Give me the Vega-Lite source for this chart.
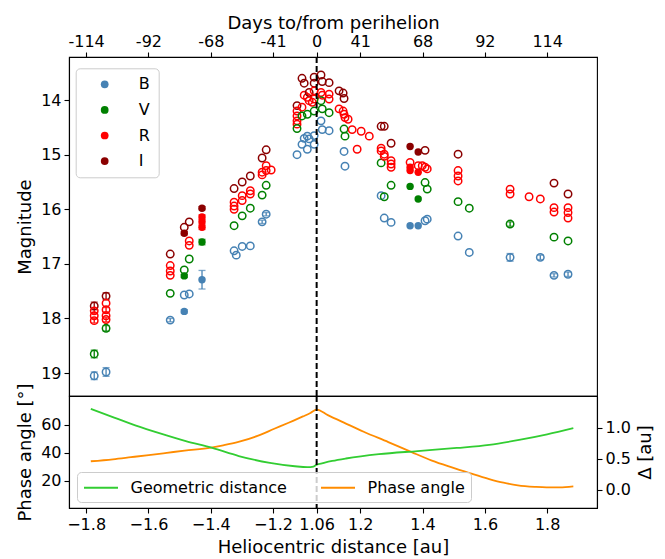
{
"$schema":"https://vega.github.io/schema/vega-lite/v6.json",
"background":"white",
"padding":{"left":16,"top":13,"right":5,"bottom":3},
"spacing":0,
"bounds":"flush",
"resolve":{"scale":{"x":"independent","color":"independent","fill":"independent","stroke":"independent"},"legend":{"color":"independent","fill":"independent","stroke":"independent"}},
"config":{
 "font":"DejaVu Sans",
 "view":{"stroke":"black","strokeWidth":1.1},
 "axis":{"domainColor":"black","tickColor":"black","labelColor":"black","titleColor":"black","grid":false,"labelFontSize":16,"titleFontSize":18,"titleFontWeight":"normal","tickSize":5,"labelPadding":3,"domainWidth":1.1,"tickWidth":1.1,"titlePadding":6},
 "legend":{"labelFont":"DejaVu Sans","labelColor":"black"}
},
"vconcat":[
{
 "width":528,"height":339,
 "data":{"values":[
{"u":-0.714,"m":17.77,"b":"I","e":0.07},
{"u":-0.714,"m":17.86,"b":"R","e":0.05},
{"u":-0.714,"m":17.95,"b":"R"},
{"u":-0.714,"m":18.04,"b":"R","e":0.04},
{"u":-0.714,"m":18.65,"b":"V","e":0.07},
{"u":-0.714,"m":19.05,"b":"B","e":0.07},
{"u":-0.676,"m":17.59,"b":"I","e":0.06},
{"u":-0.676,"m":17.72,"b":"R"},
{"u":-0.676,"m":17.84,"b":"R","e":0.04},
{"u":-0.676,"m":17.95,"b":"R"},
{"u":-0.676,"m":18.02,"b":"R","e":0.04},
{"u":-0.676,"m":18.18,"b":"V","e":0.05},
{"u":-0.676,"m":18.98,"b":"B","e":0.08},
{"u":-0.470,"m":16.82,"b":"I"},
{"u":-0.470,"m":17.03,"b":"R"},
{"u":-0.470,"m":17.13,"b":"R"},
{"u":-0.470,"m":17.21,"b":"R"},
{"u":-0.470,"m":17.54,"b":"V"},
{"u":-0.470,"m":18.03,"b":"B","e":0.03},
{"u":-0.425,"m":16.44,"b":"I","f":1,"e":0.03},
{"u":-0.425,"m":16.33,"b":"I"},
{"u":-0.425,"m":17.11,"b":"V"},
{"u":-0.425,"m":17.22,"b":"V","f":1,"e":0.03},
{"u":-0.425,"m":17.57,"b":"B"},
{"u":-0.425,"m":17.87,"b":"B","f":1,"e":0.03},
{"u":-0.409,"m":16.23,"b":"I"},
{"u":-0.409,"m":16.58,"b":"R"},
{"u":-0.409,"m":16.66,"b":"R"},
{"u":-0.409,"m":16.91,"b":"V"},
{"u":-0.409,"m":17.55,"b":"B"},
{"u":-0.368,"m":15.98,"b":"I","f":1,"e":0.03},
{"u":-0.368,"m":16.14,"b":"R","f":1,"e":0.04},
{"u":-0.368,"m":16.23,"b":"R","f":1,"e":0.04},
{"u":-0.368,"m":16.33,"b":"R","f":1,"e":0.04},
{"u":-0.368,"m":16.60,"b":"V","f":1,"e":0.05},
{"u":-0.368,"m":17.29,"b":"B","f":1,"e":0.17},
{"u":-0.265,"m":15.62,"b":"I"},
{"u":-0.265,"m":15.87,"b":"R"},
{"u":-0.265,"m":15.94,"b":"R"},
{"u":-0.265,"m":16.00,"b":"R"},
{"u":-0.265,"m":16.30,"b":"V"},
{"u":-0.265,"m":16.76,"b":"B"},
{"u":-0.258,"m":16.84,"b":"B"},
{"u":-0.239,"m":15.50,"b":"I"},
{"u":-0.239,"m":15.75,"b":"R"},
{"u":-0.239,"m":15.84,"b":"R"},
{"u":-0.239,"m":16.12,"b":"V"},
{"u":-0.239,"m":16.68,"b":"B"},
{"u":-0.213,"m":15.39,"b":"I"},
{"u":-0.213,"m":15.66,"b":"R"},
{"u":-0.213,"m":15.72,"b":"R"},
{"u":-0.213,"m":15.98,"b":"V"},
{"u":-0.213,"m":16.67,"b":"B"},
{"u":-0.175,"m":15.06,"b":"I"},
{"u":-0.175,"m":15.32,"b":"R"},
{"u":-0.175,"m":15.37,"b":"R"},
{"u":-0.175,"m":15.74,"b":"V"},
{"u":-0.175,"m":16.23,"b":"B","e":0.03},
{"u":-0.162,"m":14.91,"b":"I"},
{"u":-0.162,"m":15.20,"b":"R"},
{"u":-0.162,"m":15.29,"b":"R"},
{"u":-0.162,"m":15.56,"b":"V"},
{"u":-0.162,"m":16.09,"b":"B","e":0.03},
{"u":-0.146,"m":15.28,"b":"R"},
{"u":-0.063,"m":14.10,"b":"I"},
{"u":-0.063,"m":14.20,"b":"R"},
{"u":-0.063,"m":14.29,"b":"R"},
{"u":-0.063,"m":14.38,"b":"R"},
{"u":-0.063,"m":14.44,"b":"R"},
{"u":-0.063,"m":14.52,"b":"V"},
{"u":-0.063,"m":15.00,"b":"B"},
{"u":-0.047,"m":13.60,"b":"I"},
{"u":-0.047,"m":14.13,"b":"R"},
{"u":-0.047,"m":14.29,"b":"V"},
{"u":-0.047,"m":14.81,"b":"B"},
{"u":-0.040,"m":13.69,"b":"I"},
{"u":-0.040,"m":13.91,"b":"R"},
{"u":-0.040,"m":14.70,"b":"B"},
{"u":-0.030,"m":13.95,"b":"R"},
{"u":-0.030,"m":14.26,"b":"V"},
{"u":-0.030,"m":14.66,"b":"B"},
{"u":-0.030,"m":14.90,"b":"B"},
{"u":-0.024,"m":13.86,"b":"I"},
{"u":-0.024,"m":14.01,"b":"R"},
{"u":-0.024,"m":14.71,"b":"B"},
{"u":-0.014,"m":14.04,"b":"R"},
{"u":-0.008,"m":13.58,"b":"I"},
{"u":-0.008,"m":13.69,"b":"I"},
{"u":-0.008,"m":13.83,"b":"R"},
{"u":-0.008,"m":13.98,"b":"R"},
{"u":-0.008,"m":14.20,"b":"V"},
{"u":-0.008,"m":14.65,"b":"B"},
{"u":-0.008,"m":14.81,"b":"B"},
{"u":0.014,"m":13.54,"b":"I"},
{"u":0.014,"m":13.86,"b":"R"},
{"u":0.014,"m":14.01,"b":"V"},
{"u":0.014,"m":14.38,"b":"B"},
{"u":0.018,"m":13.66,"b":"I"},
{"u":0.018,"m":13.91,"b":"R"},
{"u":0.018,"m":14.16,"b":"V"},
{"u":0.018,"m":14.54,"b":"B"},
{"u":0.040,"m":13.68,"b":"I"},
{"u":0.040,"m":13.89,"b":"R"},
{"u":0.040,"m":13.98,"b":"R"},
{"u":0.040,"m":14.23,"b":"V"},
{"u":0.040,"m":14.56,"b":"B"},
{"u":0.072,"m":13.83,"b":"I"},
{"u":0.072,"m":14.16,"b":"R"},
{"u":0.085,"m":13.87,"b":"I"},
{"u":0.085,"m":14.20,"b":"R"},
{"u":0.088,"m":13.97,"b":"I"},
{"u":0.088,"m":14.26,"b":"R"},
{"u":0.088,"m":14.53,"b":"V"},
{"u":0.088,"m":14.94,"b":"B"},
{"u":0.091,"m":14.32,"b":"R"},
{"u":0.091,"m":14.66,"b":"V"},
{"u":0.091,"m":15.21,"b":"B"},
{"u":0.101,"m":14.35,"b":"R"},
{"u":0.114,"m":14.54,"b":"R"},
{"u":0.130,"m":14.90,"b":"R"},
{"u":0.143,"m":14.57,"b":"R"},
{"u":0.169,"m":14.66,"b":"R"},
{"u":0.207,"m":14.48,"b":"I"},
{"u":0.207,"m":14.88,"b":"R"},
{"u":0.207,"m":14.93,"b":"R"},
{"u":0.207,"m":15.15,"b":"V"},
{"u":0.207,"m":15.75,"b":"B"},
{"u":0.217,"m":14.48,"b":"I"},
{"u":0.217,"m":14.99,"b":"R"},
{"u":0.217,"m":15.03,"b":"R"},
{"u":0.217,"m":15.77,"b":"V"},
{"u":0.217,"m":16.16,"b":"B"},
{"u":0.239,"m":14.79,"b":"I"},
{"u":0.239,"m":15.11,"b":"R"},
{"u":0.239,"m":15.17,"b":"R"},
{"u":0.239,"m":15.23,"b":"R"},
{"u":0.239,"m":15.56,"b":"V"},
{"u":0.239,"m":16.24,"b":"B"},
{"u":0.300,"m":14.85,"b":"I","f":1},
{"u":0.300,"m":15.14,"b":"R"},
{"u":0.300,"m":15.23,"b":"R","f":1},
{"u":0.300,"m":15.29,"b":"R","f":1},
{"u":0.300,"m":15.58,"b":"V","f":1},
{"u":0.300,"m":16.30,"b":"B","f":1},
{"u":0.326,"m":14.95,"b":"I","f":1},
{"u":0.326,"m":15.20,"b":"R"},
{"u":0.326,"m":15.32,"b":"R","f":1},
{"u":0.326,"m":15.81,"b":"V","f":1},
{"u":0.326,"m":16.30,"b":"B","f":1},
{"u":0.339,"m":15.20,"b":"R"},
{"u":0.348,"m":14.92,"b":"I"},
{"u":0.348,"m":15.23,"b":"R"},
{"u":0.348,"m":15.51,"b":"V"},
{"u":0.348,"m":16.21,"b":"B"},
{"u":0.355,"m":15.26,"b":"R"},
{"u":0.355,"m":15.63,"b":"V"},
{"u":0.355,"m":16.18,"b":"B"},
{"u":0.454,"m":14.99,"b":"I"},
{"u":0.454,"m":15.29,"b":"R"},
{"u":0.454,"m":15.39,"b":"R"},
{"u":0.454,"m":15.48,"b":"R"},
{"u":0.454,"m":15.86,"b":"V"},
{"u":0.454,"m":16.49,"b":"B"},
{"u":0.490,"m":15.98,"b":"V"},
{"u":0.490,"m":16.79,"b":"B"},
{"u":0.621,"m":15.63,"b":"R"},
{"u":0.621,"m":15.72,"b":"R"},
{"u":0.621,"m":16.27,"b":"V","e":0.04},
{"u":0.621,"m":16.88,"b":"B","e":0.07},
{"u":0.682,"m":15.77,"b":"R"},
{"u":0.718,"m":15.81,"b":"R"},
{"u":0.718,"m":16.88,"b":"B","e":0.04},
{"u":0.762,"m":15.52,"b":"I"},
{"u":0.762,"m":15.97,"b":"R"},
{"u":0.762,"m":16.05,"b":"R"},
{"u":0.762,"m":16.51,"b":"V"},
{"u":0.762,"m":17.21,"b":"B","e":0.03},
{"u":0.807,"m":15.72,"b":"I"},
{"u":0.807,"m":15.97,"b":"R"},
{"u":0.807,"m":16.06,"b":"R"},
{"u":0.807,"m":16.16,"b":"R"},
{"u":0.807,"m":16.58,"b":"V"},
{"u":0.807,"m":17.19,"b":"B","e":0.04}
 ]},
 "encoding":{"x":{"field":"u","type":"quantitative","scale":{"domain":[-0.795,0.9],"nice":false,"zero":false},
   "axis":{"orient":"top","title":"Days to/from perihelion","titlePadding":1,"values":[-0.74,-0.54,-0.34,-0.14,0,0.14,0.34,0.54,0.74],"labelFlush":false,"labelOverlap":false,
   "labelExpr":"datum.value < -0.6 ? '-114' : datum.value < -0.44 ? '-92' : datum.value < -0.24 ? '-68' : datum.value < -0.07 ? '-41' : datum.value < 0.07 ? '0' : datum.value < 0.24 ? '41' : datum.value < 0.44 ? '68' : datum.value < 0.64 ? '92' : '114'"}}},
 "layer":[
  {"transform":[{"filter":"datum.e > 0"}],
   "mark":{"type":"errorbar","ticks":{"size":7,"thickness":1.3},"thickness":1.3},
   "encoding":{
    "y":{"field":"m","type":"quantitative","scale":{"domain":[13.21,19.42],"nice":false,"zero":false,"reverse":true},"axis":{"title":"Magnitude","values":[14,15,16,17,18,19]}},
    "yError":{"field":"e"},
    "color":{"field":"b","type":"nominal","scale":{"domain":["V","B","R","I"],"range":["#008000","#4682b4","#ff0000","#8b0000"]},"legend":null}}},
  {"transform":[{"filter":"datum.f != 1"}],
   "mark":{"type":"point","filled":false,"size":55,"strokeWidth":1.5,"opacity":1},
   "encoding":{
    "y":{"field":"m","type":"quantitative","scale":{"domain":[13.21,19.42],"nice":false,"zero":false,"reverse":true},"axis":{"title":"Magnitude","values":[14,15,16,17,18,19]}},
    "stroke":{"field":"b","type":"nominal","scale":{"domain":["I","R","V","B"],"range":["#8b0000","#ff0000","#008000","#4682b4"]},"legend":null}}},
  {"transform":[{"filter":"datum.f == 1"}],
   "mark":{"type":"point","filled":true,"size":55,"opacity":1},
   "encoding":{
    "y":{"field":"m","type":"quantitative","scale":{"domain":[13.21,19.42],"nice":false,"zero":false,"reverse":true},"axis":{"title":"Magnitude","values":[14,15,16,17,18,19]}},
    "fill":{"field":"b","type":"nominal","scale":{"domain":["B","V","R","I"],"range":["#4682b4","#008000","#ff0000","#8b0000"]},
     "legend":{"title":null,"orient":"none","legendX":6.7,"legendY":11.3,"symbolType":"circle","symbolSize":60,"labelFontSize":16,"padding":8,"rowPadding":9.6,"labelOffset":26,"symbolOffset":13,"strokeColor":"#cccccc","cornerRadius":4,"fillColor":"rgba(255,255,255,0.8)","symbolStrokeWidth":0}}}},
  {"data":{"values":[{"u":0}]},
   "mark":{"type":"rule","color":"black","strokeDash":[6,3],"strokeWidth":2},
   "encoding":{}}
 ]
},
{
 "width":528,"height":112,
 "encoding":{"x":{"field":"u","type":"quantitative","scale":{"domain":[-0.795,0.9],"nice":false,"zero":false},
   "axis":{"orient":"bottom","title":"Heliocentric distance [au]","values":[-0.74,-0.54,-0.34,-0.14,0,0.14,0.34,0.54,0.74],"labelFlush":false,"labelOverlap":false,
   "labelExpr":"datum.value == 0 ? '1.06' : format(datum.value < 0 ? datum.value - 1.06 : datum.value + 1.06, '.1f')"}}},
 "layer":[
  {"data":{"values":[
   {"u":-0.725,"p":34.1},{"u":-0.654,"p":35.5},{"u":-0.596,"p":37.0},{"u":-0.539,"p":38.5},{"u":-0.481,"p":40.1},{"u":-0.424,"p":41.7},{"u":-0.339,"p":43.9},{"u":-0.3,"p":45.5},{"u":-0.251,"p":47.9},{"u":-0.19,"p":52.2},{"u":-0.136,"p":57.3},{"u":-0.09,"p":61.6},{"u":-0.044,"p":66.1},{"u":-0.02,"p":68.6},{"u":0,"p":71.0},{"u":0.036,"p":67.0},{"u":0.094,"p":61.0},{"u":0.151,"p":55.2},{"u":0.23,"p":47.8},{"u":0.305,"p":40.6},{"u":0.37,"p":34.6},{"u":0.439,"p":29.4},{"u":0.5,"p":25.0},{"u":0.554,"p":21.4},{"u":0.6,"p":18.8},{"u":0.646,"p":16.9},{"u":0.7,"p":15.8},{"u":0.738,"p":15.4},{"u":0.78,"p":15.5},{"u":0.824,"p":16.2}
  ]},
   "mark":{"type":"line","strokeWidth":1.8,"interpolate":"monotone"},
   "encoding":{
    "y":{"field":"p","type":"quantitative","scale":{"domain":[0.7,80.7],"nice":false,"zero":false},"axis":{"title":"Phase angle [°]","values":[20,40,60]}},
    "color":{"datum":"Phase angle","type":"nominal","scale":{"domain":["Geometric distance","Phase angle"],"range":["#32cd32","#ff8c00"]},
     "legend":{"title":null,"orient":"none","legendX":8,"legendY":76,"direction":"horizontal","columns":2,"symbolType":"M-2,0L2,0","symbolSize":289,"symbolStrokeWidth":2,"symbolOffset":8.5,"labelFontSize":16,"labelOffset":20,"columnPadding":30,"padding":6,"strokeColor":"#cccccc","cornerRadius":4,"fillColor":"rgba(255,255,255,0.8)"}}}},
  {"data":{"values":[
   {"u":-0.725,"d":1.30},{"u":-0.65,"d":1.16},{"u":-0.58,"d":1.03},{"u":-0.5,"d":0.90},{"u":-0.42,"d":0.78},{"u":-0.335,"d":0.67},{"u":-0.25,"d":0.54},{"u":-0.15,"d":0.43},{"u":-0.07,"d":0.375},{"u":-0.03,"d":0.36},{"u":-0.01,"d":0.37},{"u":0,"d":0.40},{"u":0.02,"d":0.425},{"u":0.05,"d":0.46},{"u":0.094,"d":0.50},{"u":0.2,"d":0.57},{"u":0.324,"d":0.62},{"u":0.45,"d":0.67},{"u":0.554,"d":0.72},{"u":0.65,"d":0.80},{"u":0.74,"d":0.89},{"u":0.824,"d":0.99}
  ]},
   "mark":{"type":"line","strokeWidth":1.8,"interpolate":"monotone"},
   "encoding":{
    "y":{"field":"d","type":"quantitative","scale":{"domain":[-0.298,1.508],"nice":false,"zero":false},"axis":{"orient":"right","title":"Δ [au]","values":[0,0.5,1],"format":".1f","titleAngle":270,"titleBaseline":"top"}},
    "color":{"datum":"Geometric distance","type":"nominal"}}},
  {"data":{"values":[{"u":0}]},
   "mark":{"type":"rule","color":"black","strokeDash":[6,3],"strokeWidth":2},
   "encoding":{}}
 ],
 "resolve":{"scale":{"y":"independent"}}
}
]
}
